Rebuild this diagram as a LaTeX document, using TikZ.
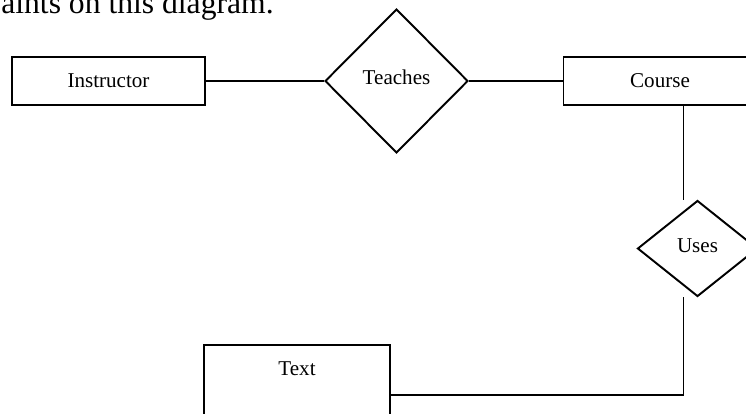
\documentclass[tikz,border=0pt]{standalone}
\usepackage{fontspec}
\setmainfont{Liberation Serif}
\usepackage{tikz}
\usetikzlibrary{shapes.geometric, arrows}
\usetikzlibrary{positioning}
\tikzstyle{entity} = [rectangle, minimum width=3.86cm, minimum height=0.96cm, text centered, draw=black, line width=1.1pt, font=\fontsize{12}{14}\selectfont]
\tikzstyle{relation} = [diamond, inner sep=0pt, text centered, draw=black, line width=1.1pt, font=\fontsize{12}{14}\selectfont]
\tikzstyle{link} = [line width=1.1pt]

\begin{document}
\begin{tikzpicture}[x=0.02cm, y=-0.02cm]
						\useasboundingbox (0, 0) rectangle (746, 413);
						\node [anchor=base west, inner sep=0pt, font=\fontsize{18}{22}\selectfont] (caption) at (1, 13) {aints on this diagram.};
						\node [entity] (instructor) at (108.5, 81) {Instructor};
						\node [relation, minimum width=2.86cm, minimum height=2.88cm, text depth=0.17cm] (teaches) at (396.5, 81) {Teaches};
						\node [entity] (course) at (660, 81) {Course};
						\node [relation, minimum width=2.4cm, minimum height=1.92cm, text depth=0.1cm] (uses) at (697.5, 248.5) {Uses};
						\node [entity, anchor=base, minimum width=3.72cm, inner ysep=0pt, text height=0.6cm, text depth=1.4cm] (text) at (297, 375) {Text};
						\draw [link] (instructor.east) -- (teaches.west);
						\draw [link] (teaches.east) -- (course.west);
						\draw [link] ([xshift=0.47cm]course.south) -- ([xshift=0.47cm]course.south |- uses.north);
						\draw [link] ([xshift=0.47cm]course.south |- uses.south) |- (text.east);
					\end{tikzpicture}
\end{document}
